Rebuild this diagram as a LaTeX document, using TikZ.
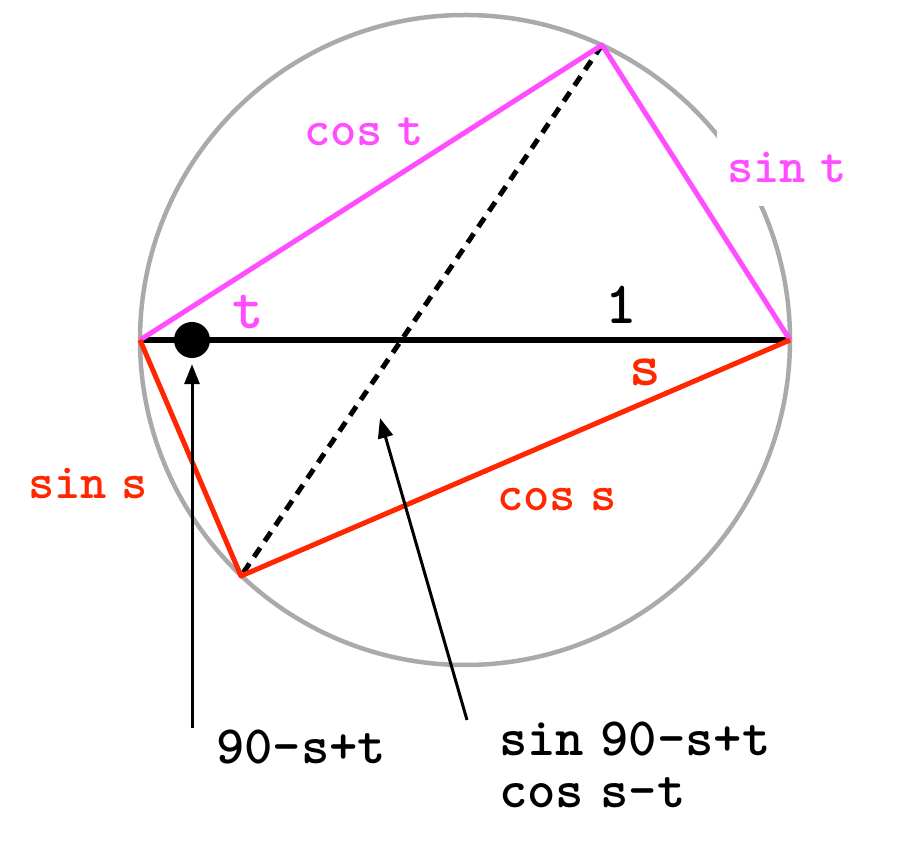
\documentclass[tikz,border=0pt]{standalone}
\usepackage{fontspec}
\usetikzlibrary{arrows.meta}
\definecolor{rosa}{HTML}{FF4DFF}
\definecolor{vermell}{HTML}{FF2600}
\definecolor{gris}{HTML}{AAAAAA}
\tikzset{
  etiq/.style={font=\ttfamily\bfseries\fontsize{50}{50}\selectfont, inner sep=1pt},
  etiqgran/.style={font=\ttfamily\bfseries\fontsize{60}{60}\selectfont, inner sep=1pt},
  nota/.style={font=\ttfamily\bfseries\fontsize{54}{52}\selectfont, inner sep=0pt, align=left},
  fletxa/.style={line width=3pt, -{Triangle[length=20pt,width=15pt]}}
}
\begin{document}
\begin{tikzpicture}[x=1pt,y=1pt]
		\useasboundingbox (0,0) rectangle (898,852);

		% Cercle de diametre 1
		\coordinate (O) at (465,512);
		\draw[gris, line width=4.5pt] (O) circle (325pt);

		\coordinate (A) at (140,512);
		\coordinate (B) at (790,512);
		\coordinate (P) at (602,807);
		\coordinate (Q) at (241,276);

		% Diametre i diagonal
		\draw[line width=5.5pt] (A) -- (B);
		\draw[line width=5pt, dash pattern=on 11pt off 8pt] (P) -- (Q);

		% Triangle superior (angle t)
		\draw[rosa, line width=5pt, line join=round] (A) -- (P) -- (B);
		% Triangle inferior (angle s)
		\draw[vermell, line width=5pt, line join=round] (A) -- (Q) -- (B);

		\node[circle, fill=black, inner sep=0pt, minimum size=36pt] (punt) at (192,512) {};

		% Etiquetes
		\node[etiq, rosa] (cost) at (364,720) {cos\hspace{0.3em}t};
		\node[etiq, rosa, fill=white, inner xsep=10pt, minimum height=76pt] (sint) at (787,684) {sin\hspace{0.3em}t};
		\node[etiqgran, rosa] (t) at (248,540) {t};
		\node[etiqgran] (u) at (621,547) {1};
		\node[etiqgran, vermell] (s) at (645,480) {s};
		\node[etiq, vermell] (sins) at (88,368) {sin\hspace{0.3em}s};
		\node[etiq, vermell] (coss) at (557,352) {cos\hspace{0.3em}s};

		% Fletxes i notes
		\coordinate (F1) at (192,124);
		\coordinate (F2) at (467,132);
		\coordinate (F2cap) at (380,434);
		\draw[fletxa, shorten >=6pt] (F1) -- (punt);
		\draw[fletxa] (F2) -- (F2cap);

		\node[nota, anchor=west] (angle) at (216,105) {90-s+t};
		\node[nota, anchor=north west] (formula) at (499,130)
			{sin\hspace{0.3em}90-s+t\\cos\hspace{0.3em}s-t};
	\end{tikzpicture}
\end{document}
